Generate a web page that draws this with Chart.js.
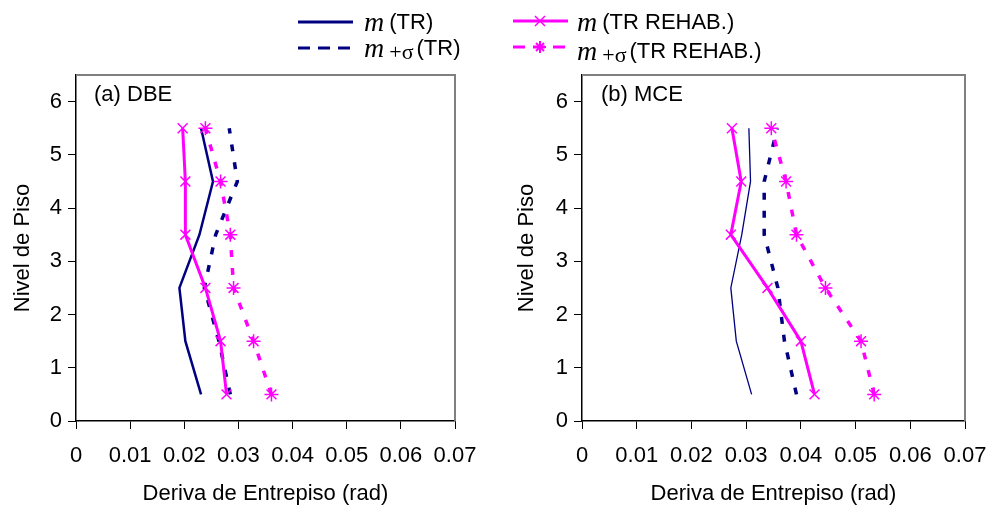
<!DOCTYPE html>
<html>
<head>
<meta charset="utf-8">
<script src="https://cdn.jsdelivr.net/npm/chart.js@4.4.0/dist/chart.umd.min.js"></script>
<style>
  body { margin:0; background:#fff; width:988px; height:505px; position:relative; overflow:hidden; font-family:"Liberation Sans", Arial, sans-serif; color:#000; }
  canvas { position:absolute; top:0; }
  #chartA { left:0; }
  #chartB { left:494px; }
  .panel-label { position:absolute; top:81px; font-size:22px; }
  .leg { position:absolute; height:28px; display:flex; align-items:center; font-size:22px; white-space:nowrap; }
  .leg i { font-family:"Liberation Serif", serif; font-size:28px; margin-right:5px; }
  .leg .sig { font-family:"Liberation Serif", serif; font-size:22px; position:relative; top:4px; margin-right:3px; }
  svg.sample { position:absolute; overflow:visible; }
</style>
</head>
<body>
<canvas id="chartA" width="494" height="505"></canvas>
<canvas id="chartB" width="530" height="505"></canvas>

<div class="panel-label" style="left:94px">(a) DBE</div>
<div class="panel-label" style="left:601px">(b) MCE</div>

<!-- legend -->
<svg class="sample" style="left:298px;top:22px" width="56" height="1">
  <line x1="0" y1="0" x2="55" y2="0" stroke="#000080" stroke-width="3"/>
</svg>
<svg class="sample" style="left:298px;top:48px" width="56" height="1">
  <line x1="0" y1="0" x2="55" y2="0" stroke="#000080" stroke-width="3" stroke-dasharray="12,8"/>
</svg>
<svg class="sample" style="left:513px;top:21px" width="56" height="1">
  <line x1="0" y1="0" x2="55" y2="0" stroke="#ff00ff" stroke-width="3"/>
  <line x1="22" y1="-5" x2="32" y2="5" stroke="#ff00ff" stroke-width="1.5"/>
  <line x1="22" y1="5" x2="32" y2="-5" stroke="#ff00ff" stroke-width="1.5"/>
</svg>
<svg class="sample" style="left:513px;top:47px" width="56" height="1">
  <line x1="0" y1="0" x2="55" y2="0" stroke="#ff00ff" stroke-width="3" stroke-dasharray="12,8"/>
  <line x1="27" y1="-6" x2="27" y2="6" stroke="#ff00ff" stroke-width="2"/>
  <line x1="21" y1="0" x2="33" y2="0" stroke="#ff00ff" stroke-width="2"/>
  <line x1="23" y1="-4" x2="31" y2="4" stroke="#ff00ff" stroke-width="2"/>
  <line x1="23" y1="4" x2="31" y2="-4" stroke="#ff00ff" stroke-width="2"/>
</svg>
<div class="leg" style="left:364px;top:8px"><i>m</i>(TR)</div>
<div class="leg" style="left:364px;top:34px"><i>m</i><span class="sig">+σ</span>(TR)</div>
<div class="leg" style="left:577px;top:8px"><i>m</i>(TR REHAB.)</div>
<div class="leg" style="left:577px;top:37px"><i>m</i><span class="sig">+σ</span>(TR REHAB.)</div>

<script>
// niveles de piso (eje y)
const floors = [0.5, 1.5, 2.5, 3.5, 4.5, 5.5];
const xTicks = [0, 0.01, 0.02, 0.03, 0.04, 0.05, 0.06, 0.07];
const xTickLabels = ['0', '0.01', '0.02', '0.03', '0.04', '0.05', '0.06', '0.07'];
const yTicks = [0, 1, 2, 3, 4, 5, 6];

// (a) DBE
const dbeTR = [0.0231, 0.0202, 0.0191, 0.0228, 0.0253, 0.0231];
const dbeTRSigma = [0.0285, 0.0264, 0.0237, 0.0258, 0.0298, 0.0283];
const dbeRehab = [0.0278, 0.0267, 0.0239, 0.0202, 0.0202, 0.0197];
const dbeRehabSigma = [0.0361, 0.0328, 0.0291, 0.0285, 0.0267, 0.0239];

// (b) MCE
const mceTR = [0.0310, 0.0282, 0.0272, 0.0292, 0.0308, 0.0305];
const mceTRSigma = [0.0392, 0.0370, 0.0358, 0.0333, 0.0333, 0.0357];
const mceRehab = [0.0425, 0.0400, 0.0339, 0.0272, 0.0291, 0.0274];
const mceRehabSigma = [0.0534, 0.0510, 0.0445, 0.0392, 0.0373, 0.0346];

const NAVY = '#000080';
const PINK = '#ff00ff';
const FONT = '"Liberation Sans", Arial, sans-serif';

function toPoints(values) {
  return values.map((v, i) => ({ x: v, y: floors[i] }));
}

// marco gris arriba y a la derecha
const frameBorder = {
  id: 'frameBorder',
  beforeDatasetsDraw(chart) {
    const { ctx, chartArea: a } = chart;
    ctx.save();
    ctx.strokeStyle = '#808080';
    ctx.lineWidth = 2;
    ctx.beginPath();
    ctx.moveTo(a.left, a.top);
    ctx.lineTo(a.right, a.top);
    ctx.lineTo(a.right, a.bottom);
    ctx.stroke();
    ctx.restore();
  }
};

function makePanel(canvasId, cfg) {
  const datasets = [
    {
      label: 'm (TR REHAB.)',
      data: toPoints(cfg.rehab),
      borderColor: PINK,
      borderWidth: 3,
      pointStyle: 'crossRot',
      pointRadius: 7,
      pointBorderWidth: 1.5,
      pointBorderColor: PINK,
      showLine: true
    },
    {
      label: 'm+σ (TR REHAB.)',
      data: toPoints(cfg.rehabSigma),
      borderColor: PINK,
      borderWidth: 3.5,
      borderDash: [7, 11],
      pointStyle: 'star',
      pointRadius: 7,
      pointBorderWidth: 1.5,
      pointBorderColor: PINK,
      showLine: true
    },
    {
      label: 'm (TR)',
      data: toPoints(cfg.tr),
      borderColor: NAVY,
      borderWidth: cfg.trWidth,
      pointRadius: 0,
      showLine: true
    },
    {
      label: 'm+σ (TR)',
      data: toPoints(cfg.trSigma),
      borderColor: NAVY,
      borderWidth: 3.5,
      borderDash: [7, 11],
      pointRadius: 0,
      showLine: true
    }
  ];

  return new Chart(document.getElementById(canvasId), {
    type: 'scatter',
    data: { datasets: datasets },
    plugins: [frameBorder],
    options: {
      responsive: false,
      animation: false,
      devicePixelRatio: 1,
      layout: { padding: { top: 75, right: cfg.padRight, left: 0, bottom: 0 } },
      elements: { line: { tension: 0 } },
      plugins: { legend: { display: false }, tooltip: { enabled: false } },
      scales: {
        x: {
          type: 'linear',
          min: 0,
          max: 0.07,
          afterBuildTicks: (scale) => { scale.ticks = xTicks.map(v => ({ value: v })); },
          afterFit: (scale) => { scale.height = 84; },
          ticks: {
            autoSkip: false,
            maxRotation: 0,
            padding: 14,
            color: '#000',
            font: { family: FONT, size: 22 },
            callback: (v, i) => xTickLabels[i]
          },
          grid: { drawOnChartArea: false, drawTicks: true, tickLength: 8, color: '#000' },
          border: { color: '#000', width: 1.5 },
          title: {
            display: true,
            text: 'Deriva de Entrepiso (rad)',
            color: '#000',
            font: { family: FONT, size: 22 },
            padding: { top: 0, bottom: -2 }
          }
        },
        y: {
          type: 'linear',
          min: 0,
          max: 6.5,
          afterBuildTicks: (scale) => { scale.ticks = yTicks.map(v => ({ value: v })); },
          afterFit: (scale) => { scale.width = cfg.yWidth; },
          ticks: {
            padding: 6,
            color: '#000',
            font: { family: FONT, size: 22 }
          },
          grid: { drawOnChartArea: false, drawTicks: true, tickLength: 8, color: '#000' },
          border: { color: '#000', width: 1.5 },
          title: {
            display: true,
            text: 'Nivel de Piso',
            color: '#000',
            font: { family: FONT, size: 22 },
            padding: { top: cfg.yTitlePad, bottom: 0 }
          }
        }
      }
    }
  });
}

makePanel('chartA', {
  tr: dbeTR, trSigma: dbeTRSigma, rehab: dbeRehab, rehabSigma: dbeRehabSigma,
  trWidth: 2.5, yWidth: 76, padRight: 39, yTitlePad: 10
});

makePanel('chartB', {
  tr: mceTR, trSigma: mceTRSigma, rehab: mceRehab, rehabSigma: mceRehabSigma,
  trWidth: 1.3, yWidth: 88, padRight: 59, yTitlePad: 20
});
</script>
</body>
</html>
